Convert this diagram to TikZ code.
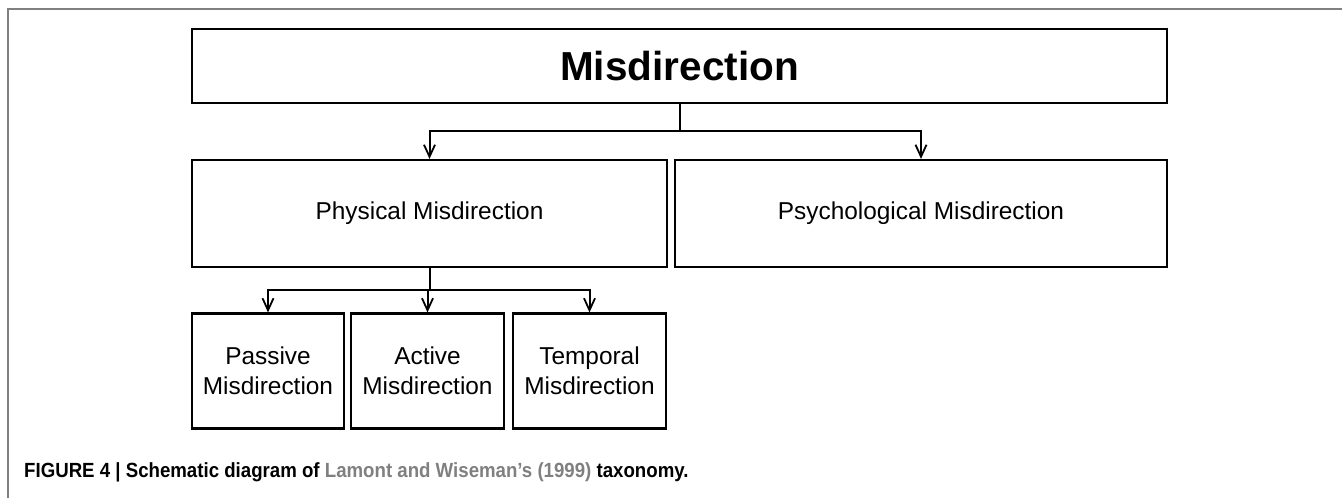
\documentclass[tikz,border=0pt]{standalone}
\usepackage{fontspec}
\setmainfont{Liberation Sans}
\newfontfamily\capfont[FakeStretch=0.91]{Liberation Sans}
\usetikzlibrary{arrows.meta}
\definecolor{framegray}{RGB}{128,128,128}
\definecolor{refgray}{RGB}{128,128,128}
\begin{document}
\begin{tikzpicture}[x=1pt,y=-1pt,
  box/.style={draw=black,line width=2.2pt,inner sep=0pt,align=center,
    font=\fontsize{24.4}{30}\selectfont},
  conn/.style={line width=2pt,black},
  arr/.style={conn,-{Straight Barb[length=12pt,width=11pt,line width=1.8pt]}}]
  \useasboundingbox (0,0) rectangle (1342,498);
  % outer frame (top and left edges)
  \draw[framegray,line width=1.5pt] (8,498) -- (8,9) -- (1342,9);

  % boxes
  \node[box,minimum width=975pt,minimum height=74pt,
        font=\fontsize{40.5}{44}\selectfont\bfseries] (mis) at (679.5,66) {Misdirection};
  \node[box,minimum width=475pt,minimum height=107pt] (phys) at (429.5,213.5) {Physical Misdirection};
  \node[box,minimum width=492pt,minimum height=107pt] (psych) at (921,213.5) {Psychological Misdirection};
  \node[box,minimum width=152pt,minimum height=115pt] (pass) at (268,371) {Passive\\Misdirection};
  \node[box,minimum width=153pt,minimum height=115pt] (act) at (427.5,371) {Active\\Misdirection};
  \node[box,minimum width=153pt,minimum height=115pt] (temp) at (589.5,371) {Temporal\\Misdirection};

  % connectors
  \coordinate (j1) at (mis.south |- 0,131);
  \draw[conn] (mis.south) -- (j1);
  \draw[arr] (j1) -| (phys.north);
  \draw[arr] (j1) -| (psych.north);
  \coordinate (j2) at (phys.south |- 0,290);
  \draw[conn] (phys.south) -- (j2);
  \draw[arr] (j2) -| (pass.north);
  \draw[arr] (j2) -- (j2 -| act.north) -- (act.north);
  \draw[arr] (j2) -| (temp.north);

  % caption
  \node[anchor=base west,inner sep=0pt,font=\capfont\fontsize{20.5}{22}\selectfont\bfseries]
    (cap) at (24,477) {FIGURE 4 | Schematic diagram of \textcolor{refgray}{Lamont and Wiseman’s (1999)} taxonomy.};
\end{tikzpicture}
\end{document}
